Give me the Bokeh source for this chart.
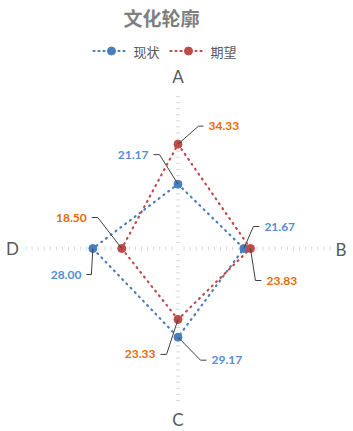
import numpy as np
from bokeh.plotting import figure
from bokeh.models import Range1d, Label
from bokeh.embed import file_html
from bokeh.resources import INLINE

# ---------------- data ----------------
title_text = "文化轮廓"
axis_labels = ["A", "B", "C", "D"]
series_names = ["现状", "期望"]
current = [21.17, 21.67, 29.17, 28.00]
expected = [34.33, 23.83, 23.33, 18.50]
axis_max = 50
tick_step = 2

# ---------------- layout ----------------
W, H = 353, 431
CX, CY = 177.5, 248.0      # screen px of the radar centre
R_PX = 152.0               # screen px for axis_max
k = R_PX / axis_max

BLUE = "#4A7EBB"
RED = "#BE4B48"
BLUE_TXT = "#558ED5"
ORANGE_TXT = "#E46C0A"
GRAY = "#595959"

def sx(px):
    return float((px - CX) / k)

def sy(py):
    return float((CY - py) / k)

p = figure(width=W, height=H,
           x_range=Range1d(-CX / k, (W - CX) / k),
           y_range=Range1d(-(H - CY) / k, CY / k),
           output_backend="svg", toolbar_location=None, min_border=0,
           x_axis_location=None, y_axis_location=None,
           outline_line_color=None,
           background_fill_color="white", border_fill_color="white")
p.xgrid.grid_line_color = None
p.ygrid.grid_line_color = None

angles = np.deg2rad([0, 90, 180, 270])
ux, uy = np.sin(angles), np.cos(angles)

# tick marks along each spoke
tick_vals = np.arange(tick_step, axis_max + tick_step / 2, tick_step)
half = 2.0 / k
x0s, y0s, x1s, y1s = [], [], [], []
for a in range(4):
    for t in tick_vals:
        cx_, cy_ = t * ux[a], t * uy[a]
        px_, py_ = -uy[a], ux[a]
        x0s.append(cx_ - px_ * half); y0s.append(cy_ - py_ * half)
        x1s.append(cx_ + px_ * half); y1s.append(cy_ + py_ * half)
p.segment(x0s, y0s, x1s, y1s, line_color="#D9D9D9", line_width=1)

# axis category labels
lab_pos = [(177.5, 76), (340.5, 248.5), (177.5, 419), (12, 248)]
for name, (lx, ly) in zip(axis_labels, lab_pos):
    p.add_layout(Label(x=sx(lx), y=sy(ly), text=name, text_align="center",
                       text_baseline="middle", text_font="Lato",
                       text_font_size="17px", text_color=GRAY))

# series
series = [(current, BLUE, BLUE_TXT), (expected, RED, ORANGE_TXT)]
# label placement (px offsets from point: label edge dx, dy, elbow dx, align)
label_place = [
    [(-29.5, -29.5, -18.5, "right"), (20.5, -22, 9.5, "left"),
     (33.5, 23, 22.5, "left"), (-11.5, 26, -1.5, "right")],
    [(30.5, -18, 20.5, "left"), (16, 32, 5, "left"),
     (-22.5, 35, -11.5, "right"), (-35, -31, -24, "right")],
]

for (vals, col, tcol), places in zip(series, label_place):
    v = np.array(vals)
    xs = v * ux
    ys = v * uy
    p.line(list(xs) + [xs[0]], list(ys) + [ys[0]], line_color=col,
           line_width=2.2, line_dash="1 5", line_cap="round")
    p.scatter(xs, ys, size=8, fill_color=col, line_color=col)
    for i in range(4):
        dx, dy, ex, al = places[i]
        sgn = 1 if al == "left" else -1
        lx = [xs[i], xs[i] + ex / k, xs[i] + (dx - sgn * 5) / k]
        ly = [ys[i], ys[i] - dy / k, ys[i] - dy / k]
        p.line(lx, ly, line_color="#404040", line_width=1)
        p.add_layout(Label(x=float(xs[i] + dx / k), y=float(ys[i] - dy / k),
                           text=f"{vals[i]:.2f}", text_align=al,
                           text_baseline="middle", text_font="Lato",
                           text_font_style="bold", text_font_size="12px",
                           text_color=tcol))

# title
p.add_layout(Label(x=sx(161), y=sy(17), text=title_text, text_align="center",
                   text_baseline="middle",
                   text_font="Noto Sans CJK SC", text_font_style="bold",
                   text_font_size="19px", text_color="#7F7F7F"))

# legend
leg = [(93, 128, 111, 133), (170, 202, 188, 210)]
for (x_a, x_b, xm, xt), name, (vals, col, tcol) in zip(leg, series_names, series):
    p.line([sx(x_a), sx(x_b)], [sy(50.5), sy(50.5)], line_color=col,
           line_width=2.2, line_dash="1 4", line_cap="round")
    p.scatter([sx(xm)], [sy(50.5)], size=8, fill_color=col, line_color=col)
    p.add_layout(Label(x=sx(xt), y=sy(50.5), text=name, text_align="left",
                       text_baseline="middle",
                       text_font="Noto Sans CJK SC",
                       text_font_size="13px", text_color=GRAY))

open("out.html", "w").write(file_html(p, INLINE))
